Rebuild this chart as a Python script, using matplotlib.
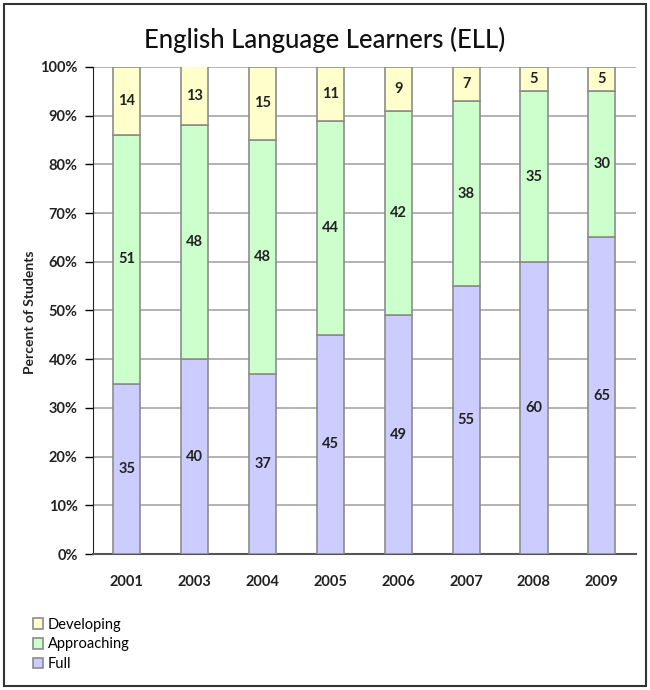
import matplotlib.pyplot as plt
from matplotlib.patches import Rectangle
from matplotlib.ticker import PercentFormatter

years = ['2001', '2003', '2004', '2005', '2006', '2007', '2008', '2009']
full = [35, 40, 37, 45, 49, 55, 60, 65]
approaching = [51, 48, 48, 44, 42, 38, 35, 30]
developing = [14, 13, 15, 11, 9, 7, 5, 5]

plt.rcParams['font.family'] = ['Lato', 'DejaVu Sans']

fig = plt.figure(figsize=(6.5, 6.9), dpi=100)
ax = fig.add_axes([0.143, 0.197, 0.835, 0.706])

x = range(len(years))
bottom2 = [f + a for f, a in zip(full, approaching)]
w = 0.4
ec = '#8c8c8c'
b1 = ax.bar(x, full, w, color='#ccccff', edgecolor=ec, lw=1.2, label='Full', zorder=3)
b2 = ax.bar(x, approaching, w, bottom=full, color='#ccffcc', edgecolor=ec, lw=1.2,
            label='Approaching', zorder=3)
b3 = ax.bar(x, developing, w, bottom=bottom2, color='#ffffcc', edgecolor=ec, lw=1.2,
            label='Developing', zorder=3)

for bars in (b1, b2, b3):
    ax.bar_label(bars, label_type='center', fontsize=10.5, fontweight='bold', color='#222222')

ax.set_ylim(0, 100)
ax.set_xlim(-0.5, len(years) - 0.5)
ax.yaxis.set_major_formatter(PercentFormatter(decimals=0))
ax.set_yticks(range(0, 101, 10))
ax.set_xticks(list(x))
ax.set_xticklabels(years)
ax.grid(axis='y', color='#a6a6a6', lw=1.2, zorder=0)
ax.tick_params(axis='y', length=6, width=1, direction='out', pad=5, labelsize=10.5)
ax.tick_params(axis='x', length=0, pad=15, labelsize=10.5)
for lab in ax.get_xticklabels() + ax.get_yticklabels():
    lab.set_fontweight('bold')
    lab.set_color('#222222')
for s in ['top', 'right']:
    ax.spines[s].set_visible(False)
ax.spines['left'].set_color('#222222')
ax.spines['bottom'].set_color('#555555')
ax.spines['bottom'].set_linewidth(1.5)

fig.text(0.5, 0.942, 'English Language Learners (ELL)', ha='center', va='center',
         fontsize=18.5, fontweight='medium', color='#111111')
fig.text(0.046, 0.548, 'Percent of Students', rotation=90, ha='center', va='center',
         fontsize=10, fontweight='bold', color='#222222')

h, l = ax.get_legend_handles_labels()
fig.legend(h[::-1], l[::-1], loc='upper left', bbox_to_anchor=(0.05, 0.105),
           frameon=False, fontsize=10.5, handlelength=0.75, handleheight=0.75,
           handletextpad=0.3, labelspacing=0.4, borderaxespad=0, borderpad=0)

fig.patches.append(Rectangle((0.006, 0.006), 0.988, 0.988, transform=fig.transFigure,
                             fill=False, edgecolor='#333333', lw=1.5))

fig.savefig('out.png', dpi=100)
